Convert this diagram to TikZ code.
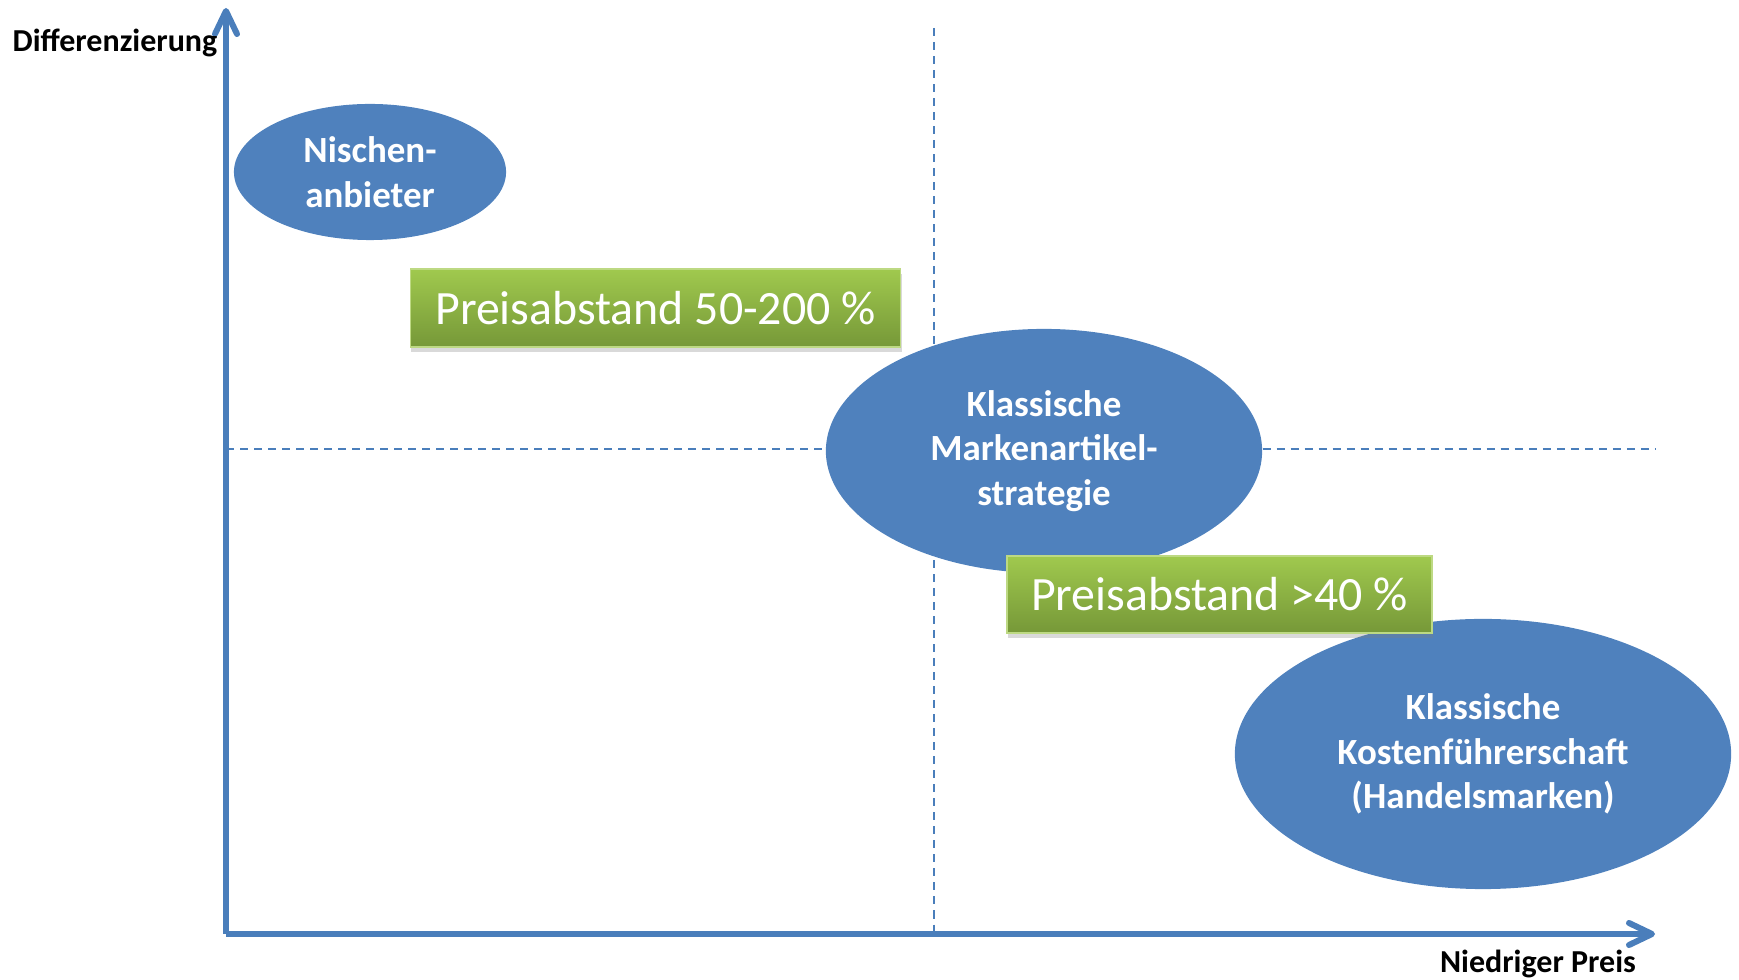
\documentclass[tikz,border=0pt]{standalone}
\usepackage{fontspec}
\setmainfont{Carlito}
\usetikzlibrary{arrows.meta,shapes.geometric,shadows}
\definecolor{achse}{RGB}{74,126,187}
\definecolor{feld}{RGB}{79,129,189}
\definecolor{gruenoben}{RGB}{160,201,78}
\definecolor{gruenunten}{RGB}{118,152,56}
\begin{document}
\begin{tikzpicture}[x=0.01cm,y=-0.01cm,
    >={Straight Barb[round,length=2.3mm,width=2.2mm]},
    achsenlinie/.style={line width=0.06cm,achse},
    trennlinie/.style={line width=0.02cm,achse,dash pattern=on 0.08cm off 0.06cm},
    strategie/.style={ellipse,fill=feld,text=white,align=center,inner sep=0pt,
      font=\bfseries\fontsize{10.5}{12.7}\selectfont},
    abstand/.style={rectangle,top color=gruenoben,bottom color=gruenunten,draw=gruenoben!70!white,
      text=white,inner sep=0pt,font=\fontsize{13.6}{16}\selectfont,
      drop shadow={shadow xshift=0.01cm,shadow yshift=-0.05cm,opacity=0.3}},
    achsentext/.style={inner sep=0pt,font=\bfseries\fontsize{9.1}{11}\selectfont}]
  \useasboundingbox (0,0) rectangle (1739,980);

  \coordinate (ursprung) at (226,934);
  \coordinate (yspitze) at (226,8);
  \coordinate (xspitze) at (1655,934);
  \coordinate (mitteoben) at (934,28);
  \coordinate (mitteunten) at (934,934);
  \coordinate (mittelinks) at (226,449);
  \coordinate (mitterechts) at (1655,449);

  \draw[trennlinie] (mitteoben) -- (mitteunten);
  \draw[trennlinie] (mittelinks) -- (mitterechts);
  \draw[achsenlinie,->] (ursprung) -- (yspitze);
  \draw[achsenlinie,->] (ursprung) -- (xspitze);

  \node[achsentext] (differenzierung) at (115,43) {Differenzierung};
  \node[achsentext] (preis) at (1538,964) {Niedriger Preis};

  \node[strategie,minimum width=2.72cm,minimum height=1.36cm] (nische) at (370,172) {Nischen-\\anbieter};
  \node[strategie,minimum width=4.36cm,minimum height=2.44cm] (marke) at (1044,451) {Klassische\\Markenartikel-\\strategie};
  \node[strategie,minimum width=4.96cm,minimum height=2.70cm] (kosten) at (1483,754) {Klassische\\Kostenführerschaft\\(Handelsmarken)};

  \node[abstand,minimum width=4.9cm,minimum height=0.78cm] (abstandoben) at (655.5,308) {Preisabstand 50-200 \%};
  \node[abstand,minimum width=4.25cm,minimum height=0.77cm] (abstandunten) at (1219.5,594.5) {Preisabstand >40 \%};
\end{tikzpicture}
\end{document}
